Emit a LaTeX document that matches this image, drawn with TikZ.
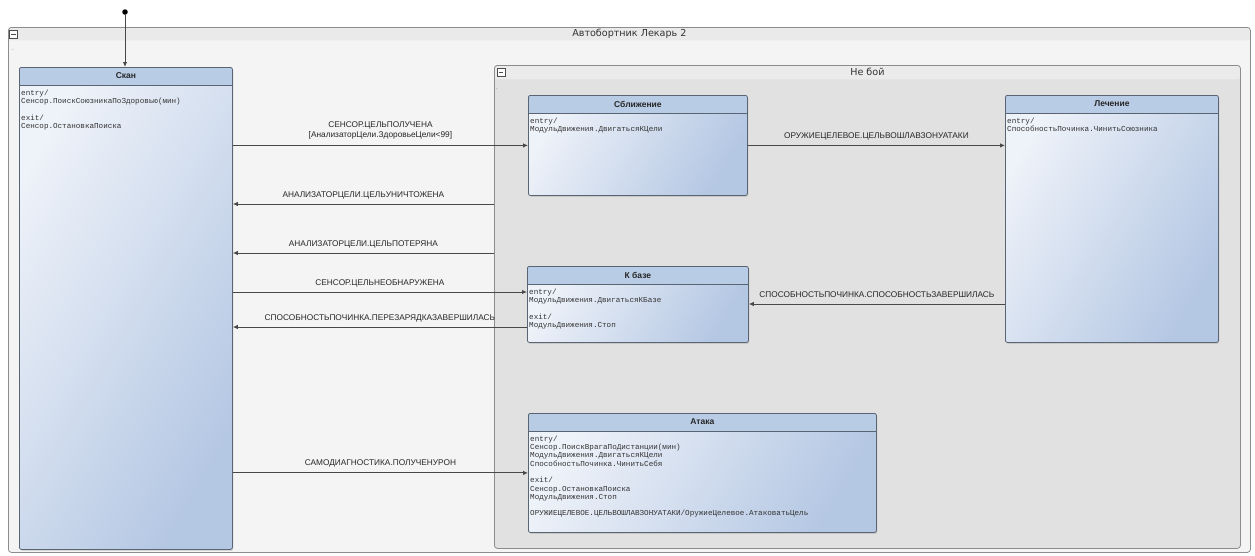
\documentclass[tikz,border=0pt]{standalone}
\usepackage{fontspec}
\setmainfont{Liberation Sans}
\newfontfamily\monof{Liberation Mono}
\newfontfamily\titlef{DejaVu Sans}
\usetikzlibrary{arrows.meta,shadows}
\definecolor{headblue}{HTML}{B9CCE6}
\definecolor{bodylight}{HTML}{EEF2F9}
\definecolor{bodydark}{HTML}{B4C7E3}
\definecolor{bordercol}{HTML}{5A6574}
\definecolor{arrcol}{HTML}{484848}
\definecolor{framecol}{HTML}{8C8C8C}
\definecolor{outerbg}{HTML}{F4F4F4}
\definecolor{outerhead}{HTML}{EAEAEA}
\definecolor{innerbg}{HTML}{E1E1E1}
\definecolor{innerhead}{HTML}{EBEBEB}
\tikzset{
  state/.style={draw=bordercol, line width=0.8pt, rounded corners=2pt, anchor=north west,
    left color=bodylight, right color=bodydark, shading angle=60, inner sep=0pt,
    drop shadow={opacity=0.25, shadow xshift=1pt, shadow yshift=-1.5pt},
    path picture={\fill[headblue] ([yshift=2pt]path picture bounding box.north west) rectangle ([yshift=-18pt]path picture bounding box.north east);
      \draw[bordercol, line width=0.8pt] ([yshift=-18pt]path picture bounding box.north west) -- ([yshift=-18pt]path picture bounding box.north east);}},
  sttitle/.style={font=\bfseries\fontsize{8.5}{9}\selectfont, text=black!85, inner sep=0pt},
  sttext/.style={font=\monof\fontsize{7.6}{8.3}\selectfont, text=black!80, align=left, anchor=north west, inner sep=0pt},
  container/.style={draw=framecol, line width=0.8pt, rounded corners=3pt, anchor=north west, inner sep=0pt},
  minusbox/.style={draw=black!70, fill=white, inner sep=0pt, minimum size=8pt,
    path picture={\draw[line width=1pt] ([xshift=1.8pt]path picture bounding box.west) -- ([xshift=-1.8pt]path picture bounding box.east);}},
  ctitle/.style={font=\titlef\fontsize{9.6}{10}\selectfont, text=black!80, inner sep=0pt},
  tr/.style={draw=arrcol, line width=0.9pt, -{Latex[length=5pt,width=4.5pt]}},
  lbl/.style={font=\fontsize{8.3}{9}\selectfont, text=black!85, inner sep=0pt, anchor=base, midway},
  dotmark/.style={font=\fontsize{6}{6}\selectfont, text=black!60, inner sep=0pt}
}
\begin{document}
\begin{tikzpicture}[x=1pt,y=-1pt]
\useasboundingbox[fill=white] (0,0) rectangle (1255,555);
% outer container
\node[container, fill=outerbg, minimum width=1242pt, minimum height=525pt,
  path picture={\fill[outerhead] (path picture bounding box.north west) rectangle ([yshift=-13pt]path picture bounding box.north east);}] (outer) at (8,27) {};
\node[minusbox] (outermin) at (13.5,34) {};
\node[ctitle] (outertitle) at ([yshift=-7pt]outer.north) {Автобортник Лекарь 2};
\node[dotmark] (outerdot) at (13,50) {.};
% inner container
\node[container, fill=innerbg, minimum width=746pt, minimum height=483pt,
  path picture={\fill[innerhead] (path picture bounding box.north west) rectangle ([yshift=-14pt]path picture bounding box.north east);}] (nb) at (494,65) {};
\node[minusbox, minimum size=7.5pt] (nbmin) at (501,72) {};
\node[ctitle] (nbtitle) at ([yshift=-7pt]nb.north) {Не бой};
\node[dotmark] (nbdot) at (497,89) {.};
% states
\node[state, minimum width=213pt, minimum height=482pt] (scan) at (19,67) {};
\node[sttitle] (scan-t) at ([yshift=-9pt]scan.north) {Скан};
\node[sttext] (scan-b) at ([xshift=2pt,yshift=-22.5pt]scan.north west) {entry/\\Сенсор.ПоискСоюзникаПоЗдоровью(мин)\\ \\exit/\\Сенсор.ОстановкаПоиска};

\node[state, minimum width=219pt, minimum height=100pt] (sbl) at (528,95) {};
\node[sttitle] (sbl-t) at ([yshift=-9pt]sbl.north) {Сближение};
\node[sttext] (sbl-b) at ([xshift=2pt,yshift=-22.5pt]sbl.north west) {entry/\\МодульДвижения.ДвигатьсяКЦели};

\node[state, minimum width=213pt, minimum height=247pt] (lech) at (1005,95) {};
\node[sttitle] (lech-t) at ([yshift=-9pt]lech.north) {Лечение};
\node[sttext] (lech-b) at ([xshift=2pt,yshift=-22.5pt]lech.north west) {entry/\\СпособностьПочинка.ЧинитьСоюзника};

\node[state, minimum width=221pt, minimum height=76pt] (kb) at (527,266) {};
\node[sttitle] (kb-t) at ([yshift=-9pt]kb.north) {К базе};
\node[sttext] (kb-b) at ([xshift=2pt,yshift=-22.5pt]kb.north west) {entry/\\МодульДвижения.ДвигатьсяКБазе\\ \\exit/\\МодульДвижения.Стоп};

\node[state, minimum width=348pt, minimum height=119pt] (atk) at (528,413) {};
\node[sttitle] (atk-t) at ([yshift=-9pt]atk.north) {Атака};
\node[sttext] (atk-b) at ([xshift=2pt,yshift=-22.5pt]atk.north west) {entry/\\Сенсор.ПоискВрагаПоДистанции(мин)\\МодульДвижения.ДвигатьсяКЦели\\СпособностьПочинка.ЧинитьСебя\\ \\exit/\\Сенсор.ОстановкаПоиска\\МодульДвижения.Стоп\\ \\ОРУЖИЕЦЕЛЕВОЕ.ЦЕЛЬВОШЛАВЗОНУАТАКИ/ОружиеЦелевое.АтаковатьЦель};

% initial
\node[circle, fill=black, inner sep=0pt, minimum size=5.5pt] (init) at (125,12) {};
\draw[tr] (init.south) -- (init.south |- scan.north);

% helper coordinates
\coordinate (y204) at (0,204);
\coordinate (y253) at (0,253);
\coordinate (y292) at (0,292);
\coordinate (y327) at (0,327);
\coordinate (y304) at (0,304);

% transitions
\draw[tr] (scan.east |- sbl.west) -- node[lbl, yshift=8pt] (l1b) {[АнализаторЦели.ЗдоровьеЦели<99]} node[lbl, yshift=18pt] (l1a) {СЕНСОР.ЦЕЛЬПОЛУЧЕНА} (sbl.west);
\draw[tr] (nb.west |- y204) -- node[lbl, yshift=7pt] (l2) {АНАЛИЗАТОРЦЕЛИ.ЦЕЛЬУНИЧТОЖЕНА} (scan.east |- y204);
\draw[tr] (nb.west |- y253) -- node[lbl, yshift=7pt] (l3) {АНАЛИЗАТОРЦЕЛИ.ЦЕЛЬПОТЕРЯНА} (scan.east |- y253);
\draw[tr] (scan.east |- y292) -- node[lbl, yshift=7pt] (l4) {СЕНСОР.ЦЕЛЬНЕОБНАРУЖЕНА} (kb.west |- y292);
\draw[tr] (kb.west |- y327) -- node[lbl, yshift=7pt] (l5) {СПОСОБНОСТЬПОЧИНКА.ПЕРЕЗАРЯДКАЗАВЕРШИЛАСЬ} (scan.east |- y327);
\draw[tr] (sbl.east) -- node[lbl, yshift=7pt] (l6) {ОРУЖИЕЦЕЛЕВОЕ.ЦЕЛЬВОШЛАВЗОНУАТАКИ} (sbl.east -| lech.west);
\draw[tr] (lech.west |- y304) -- node[lbl, yshift=7pt] (l7) {СПОСОБНОСТЬПОЧИНКА.СПОСОБНОСТЬЗАВЕРШИЛАСЬ} (kb.east |- y304);
\draw[tr] (scan.east |- atk.west) -- node[lbl, yshift=7pt] (l8) {САМОДИАГНОСТИКА.ПОЛУЧЕНУРОН} (atk.west);
\end{tikzpicture}
\end{document}
